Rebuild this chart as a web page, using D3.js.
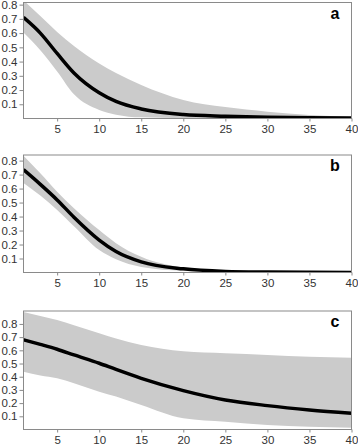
<!DOCTYPE html>
<html>
<head>
<meta charset="utf-8">
<script src="https://cdnjs.cloudflare.com/ajax/libs/d3/7.8.5/d3.min.js"></script>
<style>
  body { margin: 0; background: #fff; }
  svg { display: block; font-family: "Liberation Sans", Arial, sans-serif; }
</style>
</head>
<body>
<div id="chart-area"></div>
<script>
var W = 358, H = 445;

// sample positions along x
var xs = [1, 3, 5, 7, 10, 12, 15, 20, 25, 30, 35, 40];

// panel a
var meanA  = [0.71, 0.60, 0.457, 0.32, 0.181, 0.12, 0.067, 0.028, 0.016, 0.009, 0.005, 0.003];
var upperA = [0.83, 0.72, 0.608, 0.51, 0.387, 0.32, 0.235, 0.13, 0.08, 0.048, 0.025, 0.011];
var lowerA = [0.605, 0.48, 0.33, 0.17, 0.06, 0.027, 0.008, 0.002, 0.001, 0.001, 0.001, 0.001];

// panel b
var meanB  = [0.735, 0.63, 0.519, 0.395, 0.232, 0.15, 0.076, 0.026, 0.008, 0.003, 0.001, 0.0];
var upperB = [0.835, 0.71, 0.578, 0.46, 0.303, 0.21, 0.112, 0.035, 0.012, 0.004, 0.002, 0.001];
var lowerB = [0.64, 0.55, 0.447, 0.33, 0.16, 0.095, 0.04, 0.012, 0.004, 0.001, 0.0, 0.0];

// panel c
var meanC  = [0.68, 0.645, 0.608, 0.565, 0.502, 0.455, 0.388, 0.295, 0.224, 0.181, 0.148, 0.123];
var upperC = [0.89, 0.86, 0.83, 0.79, 0.729, 0.69, 0.641, 0.593, 0.578, 0.565, 0.552, 0.544];
var lowerC = [0.438, 0.41, 0.388, 0.35, 0.287, 0.25, 0.186, 0.085, 0.059, 0.034, 0.021, 0.014];

var xTicks = [5, 10, 15, 20, 25, 30, 35, 40];
var yTicks = [0.1, 0.2, 0.3, 0.4, 0.5, 0.6, 0.7, 0.8];

var panels = [
  { label: "a", mean: meanA, upper: upperA, lower: lowerA, top: 2.5, bottom: 118.5, ymax: 0.815 },
  { label: "b", mean: meanB, upper: upperB, lower: lowerB, top: 155, bottom: 272.5, ymax: 0.84 },
  { label: "c", mean: meanC, upper: upperC, lower: lowerC, top: 311, bottom: 429.5, ymax: 0.898 }
];

var left = 23.5, right = 351.5;

var x = d3.scaleLinear()
  .domain([1, 40])
  .range([left, right]);

var svg = d3.select("#chart-area")
  .append("svg")
  .attr("width", W)
  .attr("height", H);

panels.forEach(function(p, i) {
  var y = d3.scaleLinear()
    .domain([0, p.ymax])
    .range([p.bottom, p.top]);

  var rows = xs.map(function(v, j) {
    return { x: v, m: p.mean[j], hi: p.upper[j], lo: p.lower[j] };
  });

  var clipId = "clip" + i;
  svg.append("clipPath")
    .attr("id", clipId)
    .append("rect")
    .attr("x", left)
    .attr("y", p.top)
    .attr("width", right - left)
    .attr("height", p.bottom - p.top);

  var g = svg.append("g");
  var plot = g.append("g").attr("clip-path", "url(#" + clipId + ")");

  var band = d3.area()
    .curve(d3.curveMonotoneX)
    .x(function(d) { return x(d.x); })
    .y0(function(d) { return y(d.lo); })
    .y1(function(d) { return y(d.hi); });

  var line = d3.line()
    .curve(d3.curveMonotoneX)
    .x(function(d) { return x(d.x); })
    .y(function(d) { return y(d.m); });

  plot.append("path")
    .datum(rows)
    .attr("d", band)
    .attr("fill", "#cbcbcb");

  plot.append("path")
    .datum(rows)
    .attr("d", line)
    .attr("fill", "none")
    .attr("stroke", "#000")
    .attr("stroke-width", 3.5);

  // box
  g.append("rect")
    .attr("x", left)
    .attr("y", p.top)
    .attr("width", right - left)
    .attr("height", p.bottom - p.top)
    .attr("fill", "none")
    .attr("stroke", "#8a8a8a")
    .attr("stroke-width", 1);

  // axes
  var yAxis = g.append("g")
    .attr("transform", "translate(" + left + ",0)")
    .call(d3.axisLeft(y).tickValues(yTicks).tickSize(4).tickPadding(2)
      .tickFormat(d3.format(".1f")));

  var xAxis = g.append("g")
    .attr("transform", "translate(0," + p.bottom + ")")
    .call(d3.axisBottom(x).tickValues(xTicks).tickSize(3).tickPadding(3));

  [yAxis, xAxis].forEach(function(a) {
    a.select(".domain").remove();
    a.selectAll("line").attr("stroke", "#8a8a8a");
    a.selectAll("text")
      .attr("fill", "#333")
      .attr("font-size", "11.5px")
      .attr("font-family", "'Liberation Sans', Arial, sans-serif");
  });

  // panel letter
  g.append("text")
    .attr("x", 335)
    .attr("y", p.top + 16)
    .attr("text-anchor", "middle")
    .attr("font-size", "16px")
    .attr("font-weight", "bold")
    .attr("fill", "#000")
    .text(p.label);
});
</script>
</body>
</html>
